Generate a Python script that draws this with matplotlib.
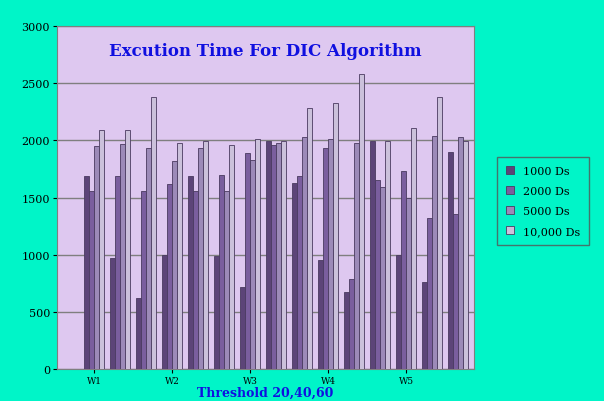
import matplotlib
matplotlib.use("Agg")
import matplotlib.pyplot as plt
import numpy as np

series_names = ["1000 Ds", "2000 Ds", "5000 Ds", "10,000 Ds"]
ds1000 = [1690, 970, 620, 1000, 1690, 990, 720, 1990, 1630, 950, 670, 1990, 1000, 760, 1900]
ds2000 = [1560, 1690, 1560, 1620, 1560, 1700, 1890, 1960, 1690, 1930, 790, 1650, 1730, 1320, 1360]
ds5000 = [1950, 1970, 1930, 1820, 1930, 1560, 1830, 1980, 2030, 2010, 1980, 1590, 1500, 2040, 2030]
ds10000 = [2090, 2090, 2380, 1980, 1990, 1960, 2010, 1990, 2280, 2330, 2580, 1990, 2110, 2380, 1990]
tick_labels = ["W1", "W2", "W3", "W4", "W5"]

colors = ["#5C4478", "#7A5E9E", "#9C8AB8", "#CBC1DB"]
fig = plt.figure(figsize=(6.04, 4.02), dpi=100, facecolor="#00F5C8")
ax = fig.add_axes([57/604, 1-370/402, (474-57)/604, (370-27)/402])
ax.set_facecolor("#DEC8F0")
x = np.arange(len(ds1000))
w = 0.19
for i, (vals, c, n) in enumerate(zip([ds1000, ds2000, ds5000, ds10000], colors, series_names)):
    ax.bar(x + (i - 1.5) * w, vals, w, color=c, edgecolor="#4A3A60", linewidth=0.6, label=n, zorder=3)
ax.set_xlim(-1.42, 14.6)
ax.set_ylim(0, 3000)
ax.set_yticks(range(0, 3001, 500))
ax.yaxis.grid(True, color="#7F7F7F", linewidth=1, zorder=0)
ax.set_xticks([0, 3, 6, 9, 12])
ax.set_xticklabels(tick_labels, fontsize=6.5, family="DejaVu Serif")
for t in ax.get_yticklabels():
    t.set_family("DejaVu Serif"); t.set_fontsize(8)
for s in ax.spines.values():
    s.set_color("#7F7F7F")
ax.tick_params(colors="black", length=3, pad=2)
ax.text(0.5, 0.915, "Excution Time For DIC Algorithm", transform=ax.transAxes, ha="center",
        color="#1010E0", fontsize=12, fontweight="bold", family="DejaVu Serif")
fig.text(265/604, 1-393/402, "Threshold 20,40,60", ha="center", va="center", color="#1010E0",
         fontsize=9, fontweight="bold", family="DejaVu Serif")
leg = fig.legend(loc="center", bbox_to_anchor=(543/604, 1-202/402), frameon=True, fancybox=False,
                 prop={"family": "DejaVu Serif", "size": 8}, handlelength=0.7, handleheight=0.7,
                 labelspacing=0.9, borderpad=0.8)
leg.get_frame().set_facecolor("#00F5C8")
leg.get_frame().set_edgecolor("#555555")
fig.savefig("out.png", dpi=100, facecolor=fig.get_facecolor())
